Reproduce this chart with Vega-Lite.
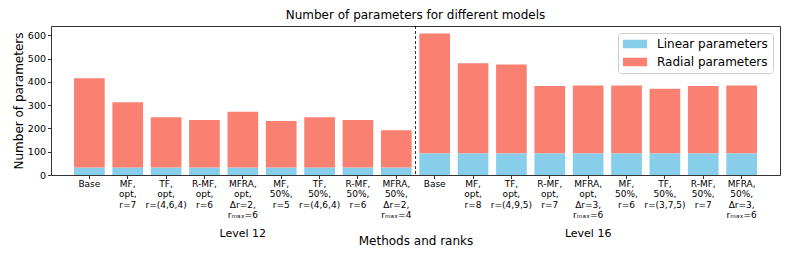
{
  "$schema": "https://vega.github.io/schema/vega-lite/v6.json",
  "width": 729,
  "height": 149,
  "autosize": "none",
  "padding": {"left": 51, "top": 26, "right": 13, "bottom": 89},
  "title": {"text": "Number of parameters for different models", "fontSize": 12, "fontWeight": "normal", "font": "DejaVu Sans", "color": "black", "offset": 4, "frame": "group", "anchor": "middle"},
  "config": {
    "font": "DejaVu Sans",
    "view": {"stroke": "#333333", "strokeWidth": 1},
    "axis": {"grid": false, "labelColor": "black", "titleColor": "black", "domainColor": "#333333", "tickColor": "#333333", "labelFont": "DejaVu Sans", "titleFont": "DejaVu Sans"}
  },
  "datasets": {
    "bars": [
      {"key": "12|Base", "type": "Linear parameters", "value": 32},
      {"key": "12|Base", "type": "Radial parameters", "value": 384},
      {"key": "12|MF,|opt,|r=7", "type": "Linear parameters", "value": 32},
      {"key": "12|MF,|opt,|r=7", "type": "Radial parameters", "value": 280},
      {"key": "12|TF,|opt,|r=(4,6,4)", "type": "Linear parameters", "value": 32},
      {"key": "12|TF,|opt,|r=(4,6,4)", "type": "Radial parameters", "value": 216},
      {"key": "12|R-MF,|opt,|r=6", "type": "Linear parameters", "value": 32},
      {"key": "12|R-MF,|opt,|r=6", "type": "Radial parameters", "value": 204},
      {"key": "12|MFRA,|opt,|Δr=2,|rₘₐₓ=6", "type": "Linear parameters", "value": 32},
      {"key": "12|MFRA,|opt,|Δr=2,|rₘₐₓ=6", "type": "Radial parameters", "value": 240},
      {"key": "12|MF,|50%,|r=5", "type": "Linear parameters", "value": 32},
      {"key": "12|MF,|50%,|r=5", "type": "Radial parameters", "value": 200},
      {"key": "12|TF,|50%,|r=(4,6,4)", "type": "Linear parameters", "value": 32},
      {"key": "12|TF,|50%,|r=(4,6,4)", "type": "Radial parameters", "value": 216},
      {"key": "12|R-MF,|50%,|r=6", "type": "Linear parameters", "value": 32},
      {"key": "12|R-MF,|50%,|r=6", "type": "Radial parameters", "value": 204},
      {"key": "12|MFRA,|50%,|Δr=2,|rₘₐₓ=4", "type": "Linear parameters", "value": 32},
      {"key": "12|MFRA,|50%,|Δr=2,|rₘₐₓ=4", "type": "Radial parameters", "value": 160},
      {"key": "16|Base", "type": "Linear parameters", "value": 93},
      {"key": "16|Base", "type": "Radial parameters", "value": 515},
      {"key": "16|MF,|opt,|r=8", "type": "Linear parameters", "value": 93},
      {"key": "16|MF,|opt,|r=8", "type": "Radial parameters", "value": 387},
      {"key": "16|TF,|opt,|r=(4,9,5)", "type": "Linear parameters", "value": 93},
      {"key": "16|TF,|opt,|r=(4,9,5)", "type": "Radial parameters", "value": 382},
      {"key": "16|R-MF,|opt,|r=7", "type": "Linear parameters", "value": 93},
      {"key": "16|R-MF,|opt,|r=7", "type": "Radial parameters", "value": 289},
      {"key": "16|MFRA,|opt,|Δr=3,|rₘₐₓ=6", "type": "Linear parameters", "value": 93},
      {"key": "16|MFRA,|opt,|Δr=3,|rₘₐₓ=6", "type": "Radial parameters", "value": 291},
      {"key": "16|MF,|50%,|r=6", "type": "Linear parameters", "value": 93},
      {"key": "16|MF,|50%,|r=6", "type": "Radial parameters", "value": 291},
      {"key": "16|TF,|50%,|r=(3,7,5)", "type": "Linear parameters", "value": 93},
      {"key": "16|TF,|50%,|r=(3,7,5)", "type": "Radial parameters", "value": 278},
      {"key": "16|R-MF,|50%,|r=7", "type": "Linear parameters", "value": 93},
      {"key": "16|R-MF,|50%,|r=7", "type": "Radial parameters", "value": 289},
      {"key": "16|MFRA,|50%,|Δr=3,|rₘₐₓ=6", "type": "Linear parameters", "value": 93},
      {"key": "16|MFRA,|50%,|Δr=3,|rₘₐₓ=6", "type": "Radial parameters", "value": 291}
    ]
  },
  "layer": [
    {
      "data": {"name": "bars"},
      "mark": {"type": "bar"},
      "encoding": {
        "x": {
          "field": "key", "type": "nominal", "sort": null,
          "scale": {"paddingInner": 0.2, "paddingOuter": 0.6},
          "axis": {"title": null, "labelAngle": 0, "labelFontSize": 9, "labelLineHeight": 10.3, "tickSize": 3.5, "labelPadding": 1, "domain": false, "labelOverlap": false, "labelBound": false, "labelFlush": false, "labelExpr": "slice(split(datum.value, '|'), 1)"}
        },
        "y": {
          "field": "value", "type": "quantitative", "stack": "zero",
          "scale": {"domain": [0, 640], "nice": false, "zero": true},
          "axis": {"title": "Number of parameters", "titleFontSize": 12, "titleFontWeight": "normal", "titlePadding": 2, "labelFontSize": 9.5, "tickSize": 3.5, "labelPadding": 2, "values": [0, 100, 200, 300, 400, 500, 600], "domain": false}
        },
        "order": {"field": "type", "sort": "ascending"},
        "color": {
          "field": "type", "type": "nominal",
          "scale": {"domain": ["Linear parameters", "Radial parameters"], "range": ["#87CEEB", "#FA8072"]},
          "legend": {"title": null, "orient": "top-right", "offset": 7, "symbolType": "M-1,-0.35H1V0.35H-1Z", "symbolSize": 576, "symbolStrokeWidth": 0, "symbolOpacity": 1, "clipHeight": 12, "rowPadding": 6, "labelFontSize": 12, "labelColor": "black", "labelOffset": 10, "padding": 5, "strokeColor": "#cccccc", "fillColor": "white", "cornerRadius": 3}
        }
      }
    },
    {
      "data": {"values": [{"key": "16|Base"}]},
      "mark": {"type": "rule", "strokeDash": [3, 2], "color": "black", "strokeWidth": 0.8},
      "encoding": {
        "x": {
          "field": "key", "type": "nominal", "sort": null, "bandPosition": -0.125,
          "axis": {"orient": "bottom", "offset": 50, "domain": false, "ticks": false, "tickSize": 0, "labelAngle": 0, "labelFontSize": 11, "labelPadding": 2, "labelOverlap": false, "values": ["12|MFRA,|opt,|Δr=2,|rₘₐₓ=6", "16|MFRA,|opt,|Δr=3,|rₘₐₓ=6"], "labelExpr": "indexof(datum.value, '12|') == 0 ? 'Level 12' : 'Level 16'", "title": "Methods and ranks", "titleFontSize": 12, "titleFontWeight": "normal", "titlePadding": -3}
        }
      }
    }
  ],
  "resolve": {"axis": {"x": "independent"}}
}
